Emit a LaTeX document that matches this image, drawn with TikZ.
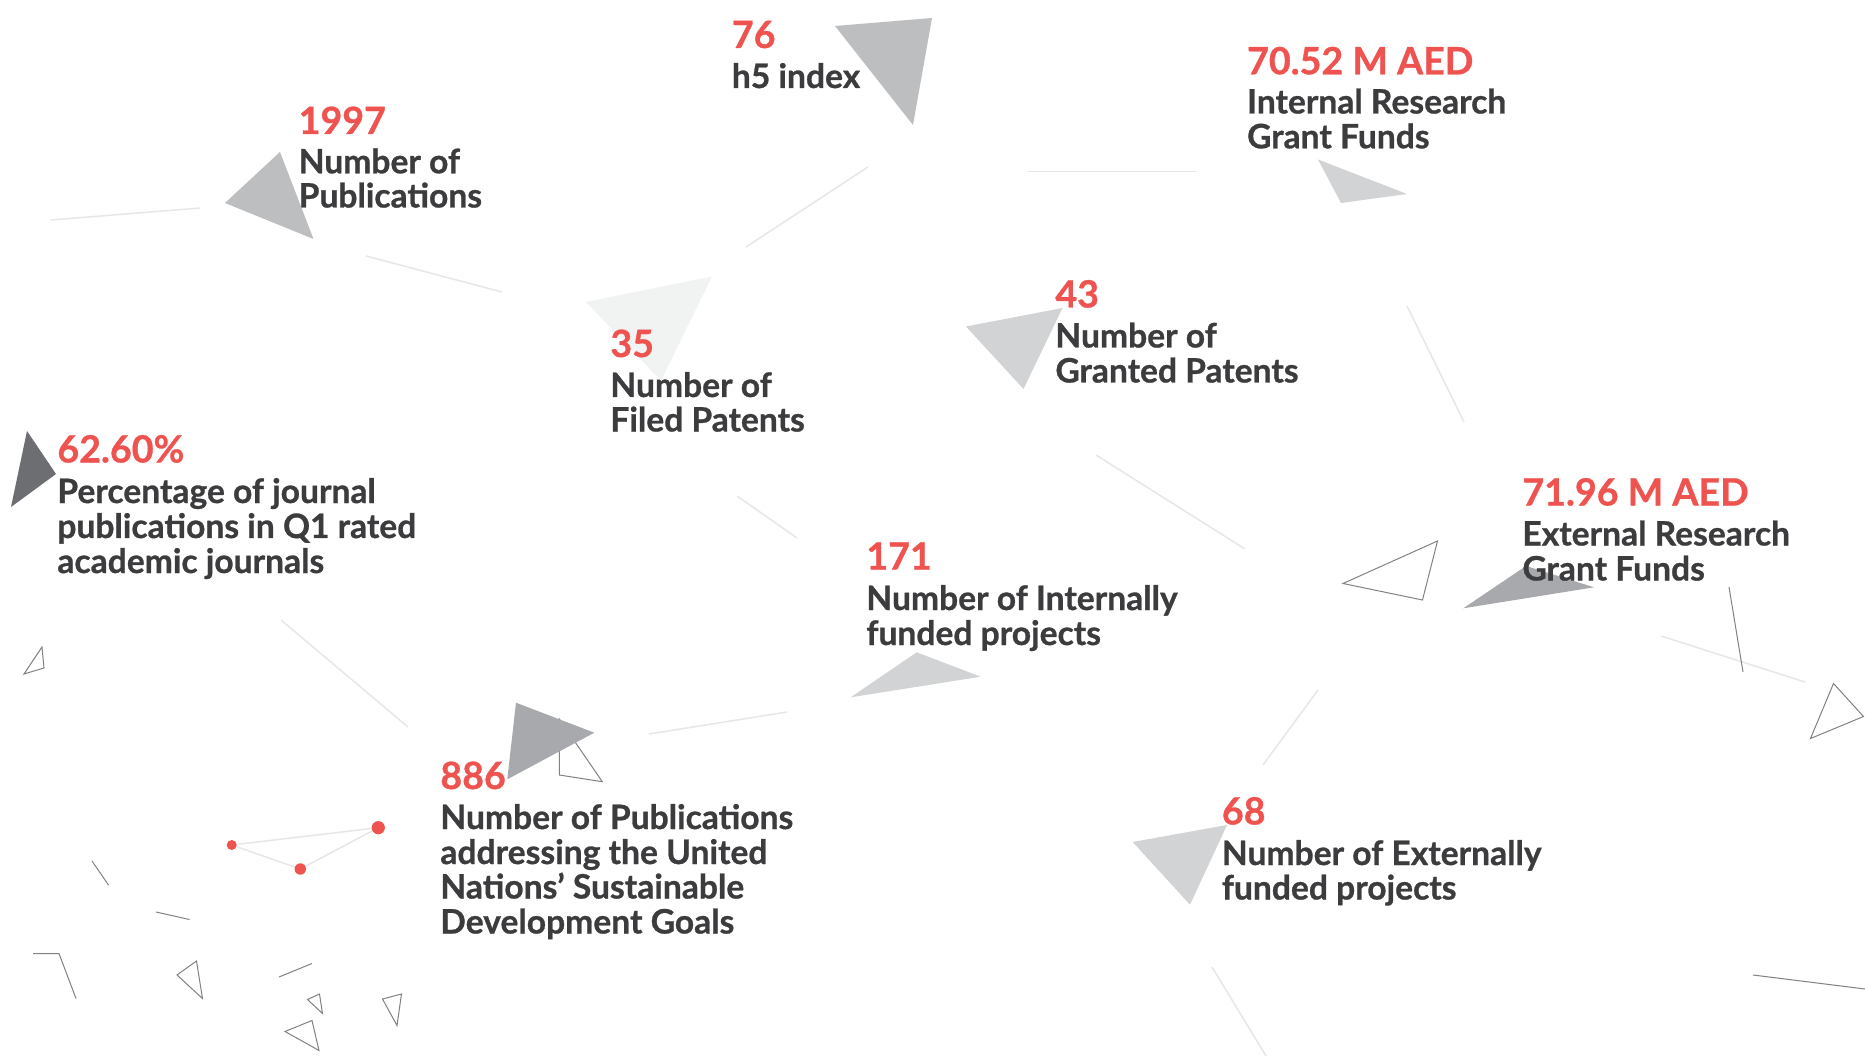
\documentclass[tikz,border=0pt]{standalone}
\usepackage{fontspec}
\setmainfont{Lato}[BoldFeatures={FakeBold=0.8}]
\definecolor{numred}{RGB}{239,83,80}
\definecolor{txtdark}{RGB}{60,60,62}
\definecolor{trivlight}{RGB}{241,242,242}
\definecolor{trilight}{RGB}{209,211,212}
\definecolor{trimid}{RGB}{188,190,192}
\definecolor{tridark}{RGB}{167,169,172}
\definecolor{tridarkest}{RGB}{109,110,113}
\definecolor{faintgrey}{RGB}{230,231,232}
\definecolor{thingrey}{RGB}{128,130,133}
\begin{document}
\begin{tikzpicture}[x=0.5pt,y=-0.5pt,
  num/.style={anchor=base west, inner sep=0pt, text=numred, font=\fontsize{18.8}{21}\selectfont\bfseries},
  lbl/.style={anchor=base west, inner sep=0pt, text=txtdark, font=\fontsize{16.8}{19}\selectfont\bfseries},
  faint/.style={draw=faintgrey, line width=0.75pt},
  thinline/.style={draw=thingrey, line width=0.5pt},
  reddot/.style={fill=numred},
]
\useasboundingbox (0,0) rectangle (1865,1064);
\fill[white] (0,0) rectangle (1865,1064);

% faint decorative lines
\draw[faint] (51,220) -- (200,208);
\draw[faint] (366,256) -- (502,292);
\draw[faint] (868,167) -- (746,247);
\draw[faint] (737,496) -- (797,538);
\draw[faint] (1028,171.5) -- (1196,171.5);
\draw[faint] (1407,306) -- (1464,422);
\draw[faint] (1096,455) -- (1245,549);
\draw[faint] (281,620) -- (408,727);
\draw[faint] (649,734) -- (787,712);
\draw[faint] (1661,636) -- (1805,682);
\draw[faint] (1318,690) -- (1263,765);
\draw[faint] (1212,967) -- (1266,1056);

% thin darker strokes
\draw[thinline] (1729,587) -- (1743,672);
\draw[thinline] (1753,975) -- (1865,989);
\draw[thinline] (1343,583.5) -- (1437.5,541) -- (1422.5,600) -- cycle;
\draw[thinline] (1833.5,683.5) -- (1863.5,716.5) -- (1810.5,738.5) -- cycle;
\draw[thinline] (42,647) -- (44,668) -- (24,674) -- cycle;
\draw[thinline] (92,861) -- (108.5,885);
\draw[thinline] (156,912) -- (189.5,919.5);
\draw[thinline] (33,953.5) -- (59,953.5) -- (76,998.5);
\draw[thinline] (196.5,961) -- (177,975) -- (202.5,998.5) -- cycle;
\draw[thinline] (279,977) -- (312,963.5);
\draw[thinline] (307.5,999.5) -- (319.5,994) -- (322.5,1013.5) -- cycle;
\draw[thinline] (285,1031.5) -- (312,1020.5) -- (319,1050.5) -- cycle;
\draw[thinline] (382.5,999) -- (401.5,994) -- (397,1025.5) -- cycle;
\draw[thinline] (559.3,719) -- (559.3,775) -- (602.3,781.7) -- cycle;

% filled triangles
\fill[trimid] (835,26) -- (932,18) -- (913,125) -- cycle;
\fill[trimid] (280,152) -- (225,203) -- (313.5,239) -- cycle;
\fill[trivlight] (586,302) -- (712,276.5) -- (661,380.5) -- cycle;
\fill[tridarkest] (27,431) -- (56,474) -- (11,507) -- cycle;
\fill[trilight] (1318,159.5) -- (1407,194) -- (1341,203) -- cycle;
\fill[trilight] (966,326.5) -- (1062.5,308) -- (1023.5,389) -- cycle;
\fill[tridark] (516,702.7) -- (594.3,732.7) -- (507.3,779.3) -- cycle;
\fill[trilight] (850.7,697.3) -- (916.7,652.3) -- (980.7,676.7) -- cycle;
\fill[tridark] (1463.3,608.3) -- (1526,566) -- (1594,587.3) -- cycle;
\fill[trilight] (1132.7,842) -- (1227,825) -- (1190,904.7) -- cycle;

% red dots
\draw[faint] (231.7,845) -- (378.3,827.7) -- (300.3,869) -- cycle;
\fill[reddot] (231.7,845) circle (2.5pt);
\fill[reddot] (378.3,827.7) circle (3.3pt);
\fill[reddot] (300.3,869) circle (2.85pt);

% texts
\node[num] (n76) at (731.5,48) {76};
\node[lbl] (l76a) at (731.5,88) {h5 index};

\node[num] (n1997) at (298.3,134) {1997};
\node[lbl] (l1997a) at (298.3,173.3) {Number of};
\node[lbl] (l1997b) at (298.3,207.5) {Publications};

\node[num] (n7052) at (1246.7,74.3) {70.52 M AED};
\node[lbl] (l7052a) at (1246.7,113.5) {Internal Research};
\node[lbl] (l7052b) at (1246.7,148.3) {Grant Funds};

\node[num] (n43) at (1055,307.5) {43};
\node[lbl] (l43a) at (1055,347.5) {Number of};
\node[lbl] (l43b) at (1055,382.5) {Granted Patents};

\node[num] (n35) at (610,357) {35};
\node[lbl] (l35a) at (610,397) {Number of};
\node[lbl] (l35b) at (610,431.5) {Filed Patents};

\node[num] (n6260) at (57,462.5) {62.60\%};
\node[lbl] (l6260a) at (57,503) {Percentage of journal};
\node[lbl] (l6260b) at (57,538) {publications in Q1 rated};
\node[lbl] (l6260c) at (57,573) {academic journals};

\node[num] (n7196) at (1522,505.5) {71.96 M AED};
\node[lbl] (l7196a) at (1522,545.5) {External Research};
\node[lbl] (l7196b) at (1522,580.5) {Grant Funds};

\node[num] (n171) at (866,569.5) {171};
\node[lbl] (l171a) at (866,610) {Number of Internally};
\node[lbl] (l171b) at (866,645) {funded projects};

\node[num] (n886) at (440,789) {886};
\node[lbl] (l886a) at (440,829) {Number of Publications};
\node[lbl] (l886b) at (440,864) {addressing the United};
\node[lbl] (l886c) at (440,898.5) {Nations’ Sustainable};
\node[lbl] (l886d) at (440,933.5) {Development Goals};

\node[num] (n68) at (1221.5,824.5) {68};
\node[lbl] (l68a) at (1221.5,865) {Number of Externally};
\node[lbl] (l68b) at (1221.5,899.5) {funded projects};
\end{tikzpicture}
\end{document}
